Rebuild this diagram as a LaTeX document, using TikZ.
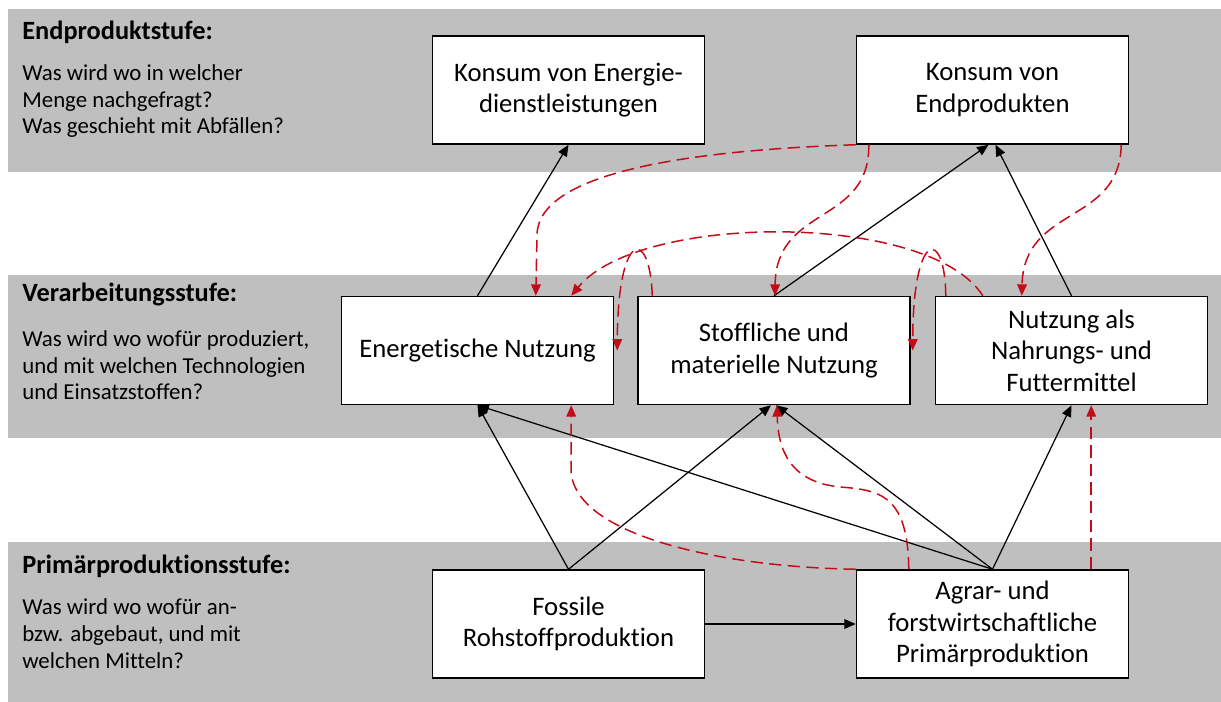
\documentclass[tikz,border=0pt]{standalone}
\usepackage{fontspec}
\setmainfont{Carlito}[Ligatures=NoCommon]
\usetikzlibrary{arrows.meta,calc}
\definecolor{bandgray}{RGB}{191,191,191}
\definecolor{flowred}{RGB}{195,12,24}

\begin{document}
\begin{tikzpicture}[
    x=0.02cm, y=-0.02cm,
    block/.style={rectangle, draw, line width=0.85pt, fill=white,
                  minimum width=5.44cm, minimum height=2.16cm, align=center,
                  font=\fontsize{15.2}{18}\selectfont},
    band/.style={fill=bandgray, draw=none},
    head/.style={anchor=base west, inner sep=0pt,
                 font=\fontsize{15}{18}\selectfont\bfseries},
    quest/.style={anchor=base west, align=left, inner sep=0pt,
                  font=\fontsize{13}{15.2}\selectfont},
    arr/.style={-{Triangle[length=6.5pt,width=5.5pt]}, line width=0.7pt},
    back/.style={-{Triangle[length=6.5pt,width=5.5pt]}, line width=0.85pt,
                 draw=flowred, dash pattern=on 7pt off 3.6pt},
]
\useasboundingbox (0,0) rectangle (1221,702);

% Stages (background bands)
\fill[band] (8,9)   rectangle (1221,172);
\fill[band] (8,275) rectangle (1221,438);
\fill[band] (8,542) rectangle (1221,702);

% Stage texts (questions anchored at their last line)
\node[head]  (endT)  at (22,40)  {Endproduktstufe:};
\node[quest] (endQ)  at (22,134) {Was wird wo in welcher\\Menge nachgefragt?\\Was geschieht mit Abfällen?};
\node[head]  (verT)  at (22,302) {Verarbeitungsstufe:};
\node[quest] (verQ)  at (22,400) {Was wird wo wofür produziert,\\und mit welchen Technologien\\und Einsatzstoffen?};
\node[head]  (priT)  at (22,573) {Primärproduktionsstufe:};
\node[quest] (priQ)  at (22,668) {Was wird wo wofür an-\\bzw. abgebaut, und mit\\welchen Mitteln?};

% Row 1: end products
\node[block] (konsE) at (568.5,90)  {Konsum von Energie-\\dienstleistungen};
\node[block] (konsP) at (992.5,90)  {Konsum von\\Endprodukten};

% Row 2: processing
\node[block] (energ) at (477.5,350.5) {Energetische Nutzung};
\node[block] (stoff) at (774,350.5)   {Stoffliche und\\materielle Nutzung};
\node[block] (nahr)  at (1071.5,350.5) {Nutzung als\\Nahrungs- und\\Futtermittel};

% Row 3: primary production
\node[block] (fossil) at (568.5,624) {Fossile\\Rohstoffproduktion};
\node[block] (agrar)  at (992.5,624) {Agrar- und\\forstwirtschaftliche\\Primärproduktion};

% Arrows (material flow)
\draw[arr] (energ.north) -- (konsE.south);
\draw[arr] (stoff.north) -- ($(konsP.south)+(-4,0)$);
\draw[arr] (nahr.north)  -- ($(konsP.south)+(3,0)$);
\draw[arr] (fossil.north) -- (energ.south);
\draw[arr] (fossil.north) -- ($(stoff.south)+(-3,0)$);
\draw[arr] (agrar.north)  -- (energ.south);
\draw[arr] (agrar.north)  -- ($(stoff.south)+(2,0)$);
\draw[arr] (agrar.north)  -- (nahr.south);
\draw[arr] (fossil.east)  -- (agrar.west);

% Recycling / cascade flows
\draw[back] (konsP.south west) .. controls (700,150) and (538,170) .. (537,235)
    -- ($(energ.north west)+(195,0)$);
\draw[back] ($(konsP.south west)+(13,0)$) .. controls (870,225) and (776,205)
    .. ($(stoff.north)+(1,0)$);
\draw[back] ($(konsP.south east)+(-8,0)$) .. controls (1120,225) and (1024,205)
    .. ($(nahr.north west)+(87,0)$);
\draw[back] ($(nahr.north west)+(48,0)$) .. controls (930,212) and (640,212)
    .. ($(energ.north east)+(-43,0)$);
\draw[back] ($(stoff.north west)+(15,0)$) .. controls (650,228) and (618,228)
    .. ($(energ.east)+(3,0)$);
\draw[back] ($(nahr.north west)+(11,0)$) .. controls (945,228) and (913,228)
    .. ($(stoff.east)+(2,0)$);
\draw[back] ($(agrar.north west)+(53,0)$) .. controls (908,495) and (880,490) .. (840,487)
    .. controls (790,482) and (778,450) .. ($(stoff.south)+(3,0)$);
\draw[back] (agrar.north west) .. controls (720,567) and (573,535) .. (571,470)
    -- ($(energ.south east)+(-43,0)$);
\draw[back] ($(agrar.north east)+(-38,0)$) -- ($(nahr.south east)+(-117,0)$);

\end{tikzpicture}
\end{document}
